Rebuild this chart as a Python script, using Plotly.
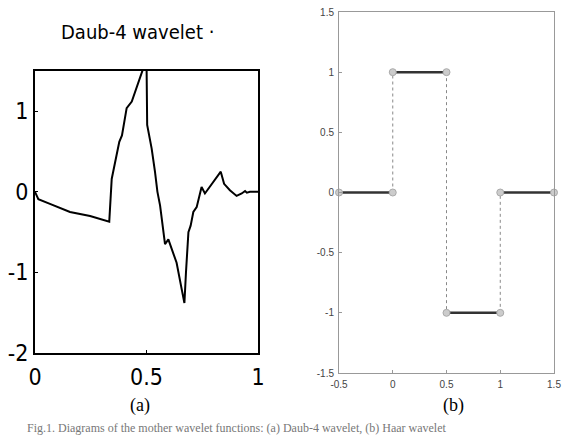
import plotly.graph_objects as go

W, H = 562, 437

# Daub-4 wavelet (panel a)
daub_x = [0.0, 0.015, 0.067, 0.157, 0.247, 0.314, 0.333, 0.344, 0.359, 0.378, 0.39,
          0.411, 0.434, 0.456, 0.486, 0.5, 0.503, 0.523, 0.538, 0.549, 0.561, 0.583,
          0.598, 0.62, 0.635, 0.658, 0.67, 0.677, 0.688, 0.698, 0.71, 0.725, 0.747,
          0.762, 0.8, 0.833, 0.848, 0.874, 0.904, 0.927, 0.942, 0.95, 0.964, 1.0]
daub_y = [0.0, -0.09, -0.15, -0.25, -0.3, -0.36, -0.37, 0.16, 0.37, 0.62, 0.70,
          1.04, 1.12, 1.29, 1.52, 1.65, 0.83, 0.54, 0.25, 0.0, -0.17, -0.65,
          -0.59, -0.75, -0.88, -1.21, -1.38, -1.0, -0.5, -0.42, -0.25, -0.19, 0.06,
          -0.02, 0.12, 0.25, 0.10, 0.02, -0.05, -0.02, 0.01, -0.01, 0.0, 0.0]

# Haar wavelet (panel b)
haar_edges = [-0.5, 0.0, 0.5, 1.0, 1.5]
haar_levels = [0, 1, -1, 0]

left_ticks_x = [0, 0.5, 1]
left_ticks_y = [-2, -1, 0, 1]
right_ticks = [-1.5, -1, -0.5, 0, 0.5, 1, 1.5]
right_ticks_x = [-0.5, 0, 0.5, 1, 1.5]

def px_x(p):
    return p / W

def px_y(p):
    return 1 - p / H

fig = go.Figure()

fig.add_trace(go.Scatter(x=daub_x, y=daub_y, mode="lines",
                         line=dict(color="black", width=2),
                         xaxis="x", yaxis="y", showlegend=False, cliponaxis=True))

# Haar: dotted verticals
for i in range(1, len(haar_edges) - 1):
    fig.add_trace(go.Scatter(x=[haar_edges[i], haar_edges[i]],
                             y=[haar_levels[i - 1], haar_levels[i]],
                             mode="lines", line=dict(color="#888888", width=1, dash="dot"),
                             xaxis="x2", yaxis="y2", showlegend=False))
# Haar: solid segments with circle markers
for i, lv in enumerate(haar_levels):
    fig.add_trace(go.Scatter(x=[haar_edges[i], haar_edges[i + 1]], y=[lv, lv],
                             mode="lines+markers",
                             line=dict(color="#333333", width=2.5),
                             marker=dict(symbol="circle", size=7, color="#cccccc",
                                         line=dict(color="#aaaaaa", width=1)),
                             xaxis="x2", yaxis="y2", showlegend=False, cliponaxis=False))

narrow = "DejaVu Sans Condensed, Liberation Sans Narrow, Liberation Sans, Arial"
serif = "Liberation Serif, Times New Roman"

fig.update_layout(
    width=W, height=H,
    margin=dict(l=0, r=0, t=0, b=0, autoexpand=False),
    paper_bgcolor="white", plot_bgcolor="white",
    xaxis=dict(domain=[px_x(35), px_x(258)], range=[0, 1], tickvals=left_ticks_x,
               ticktext=["0", "0.5", "1"], automargin=False,
               showline=True, linecolor="black", linewidth=2, mirror=True,
               ticks="inside", ticklen=3, tickcolor="black", showgrid=False, zeroline=False,
               tickfont=dict(family=narrow, size=23, color="black"), anchor="y",
               ticklabelstandoff=2),
    yaxis=dict(domain=[px_y(353), px_y(71)], range=[-2, 1.5], tickvals=left_ticks_y,
               ticktext=["-2", "-1", "0", "1"], automargin=False,
               showline=True, linecolor="black", linewidth=2, mirror=True,
               ticks="inside", ticklen=3, tickcolor="black", showgrid=False, zeroline=False,
               tickfont=dict(family=narrow, size=23, color="black"), anchor="x",
               ticklabelstandoff=0),
    xaxis2=dict(domain=[px_x(339), px_x(554)], range=[-0.5, 1.5], tickvals=right_ticks_x,
                ticktext=["-0.5", "0", "0.5", "1", "1.5"], automargin=False,
                showline=True, linecolor="#999999", linewidth=1, mirror=True,
                ticks="inside", ticklen=3, tickcolor="#999999", showgrid=False, zeroline=False,
                tickfont=dict(family="Liberation Sans, Arial", size=10, color="#444444"),
                anchor="y2", ticklabelstandoff=2),
    yaxis2=dict(domain=[px_y(373), px_y(12)], range=[-1.5, 1.5], tickvals=right_ticks,
                ticktext=["-1.5", "-1", "-0.5", "0", "0.5", "1", "1.5"], automargin=False,
                showline=True, linecolor="#999999", linewidth=1, mirror=True,
                ticks="inside", ticklen=3, tickcolor="#999999", showgrid=False, zeroline=False,
                tickfont=dict(family="Liberation Sans, Arial", size=10, color="#444444"),
                anchor="x2", ticklabelstandoff=2),
    annotations=[
        dict(text="Daub-4 wavelet \u00b7", x=px_x(137), y=px_y(32), xref="paper", yref="paper",
             xanchor="center", yanchor="middle",
             showarrow=False, font=dict(family=narrow, size=20, color="black")),
        dict(text="(a)", x=px_x(140), y=px_y(405), xref="paper", yref="paper",
             xanchor="center", yanchor="middle",
             showarrow=False, font=dict(family=serif, size=18, color="black")),
        dict(text="(b)", x=px_x(453), y=px_y(405), xref="paper", yref="paper",
             xanchor="center", yanchor="middle",
             showarrow=False, font=dict(family=serif, size=18, color="black")),
        dict(text="Fig.1. Diagrams of the mother wavelet functions: (a) Daub-4 wavelet, (b) Haar wavelet",
             x=px_x(25), y=0, xref="paper", yref="paper", xanchor="left", yanchor="bottom",
             showarrow=False, font=dict(family=serif, size=12, color="#777777")),
    ],
)

fig.write_html("out.html")
